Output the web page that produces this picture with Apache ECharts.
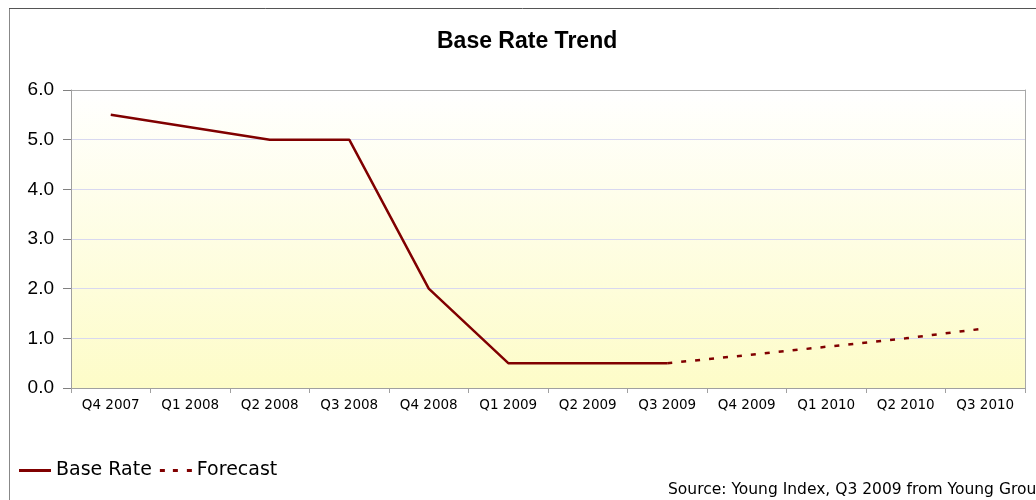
<!DOCTYPE html>
<html><head><meta charset="utf-8">
<script src="https://cdn.jsdelivr.net/npm/echarts@6/dist/echarts.min.js"></script>
<style>html,body{margin:0;padding:0;background:#fff}#c{width:1036px;height:500px}</style>
</head><body><div id="c"></div>
<script>
const categories = ['Q4 2007','Q1 2008','Q2 2008','Q3 2008','Q4 2008','Q1 2009','Q2 2009','Q3 2009','Q4 2009','Q1 2010','Q2 2010','Q3 2010'];
const baseRate = [5.5, 5.25, 5.0, 5.0, 2.0, 0.5, 0.5, 0.5, null, null, null, null];
const forecast = [null, null, null, null, null, null, null, 0.5, 0.66, 0.83, 1.0, 1.2];
const yTicks = [0, 1, 2, 3, 4, 5, 6];

const gridColors = yTicks.map((v, i) => i === yTicks.length - 1 ? '#a8a8a8' : '#d8d8f0');

const chart = echarts.init(document.getElementById('c'));
chart.setOption({
  animation: false,
  title: {
    text: 'Base Rate Trend', left: 432, top: 25,
    textStyle: {fontFamily: 'Liberation Sans', fontSize: 23, fontWeight: 'bold', color: '#000'}
  },
  legend: {
    left: 14, top: 456, itemGap: 8, itemWidth: 32, itemHeight: 3,
    textStyle: {fontFamily: 'DejaVu Sans', fontSize: 19, color: '#000', padding: [0,0,0,0]},
    data: [
      {name: 'Base Rate', icon: 'path://M0,0H32V3H0Z'},
      {name: 'Forecast', icon: 'path://M0,0H5V3H0Z M13,0H18V3H13Z M27,0H32V3H27Z'}
    ]
  },
  grid: {
    left: 71, right: 11, top: 90, bottom: 112, show: true, borderWidth: 0,
    backgroundColor: {type: 'linear', x: 0, y: 0, x2: 0, y2: 1,
      colorStops: [{offset: 0, color: '#ffffff'}, {offset: 1, color: '#fdfcc8'}]}
  },
  xAxis: {
    type: 'category', data: categories, boundaryGap: true,
    axisLine: {lineStyle: {color: '#a0a0a0'}},
    axisTick: {show: true, length: 5, lineStyle: {color: '#a0a0a0'}},
    axisLabel: {fontFamily: 'DejaVu Sans', fontSize: 13.5, color: '#000', margin: 10, interval: 0}
  },
  yAxis: [{
    type: 'value', min: yTicks[0], max: yTicks[yTicks.length-1], interval: 1,
    axisLine: {show: true, lineStyle: {color: '#a0a0a0'}},
    axisTick: {show: true, length: 8, lineStyle: {color: '#808080'}},
    axisLabel: {fontFamily: 'Liberation Sans', fontSize: 19, color: '#000', margin: 17,
      formatter: v => v.toFixed(1)},
    splitLine: {lineStyle: {color: gridColors, width: 1}}
  }, {
    type: 'value', min: yTicks[0], max: yTicks[yTicks.length-1], interval: 1, position: 'right',
    axisLine: {show: true, lineStyle: {color: '#a8a8a8'}},
    axisTick: {show: false}, axisLabel: {show: false}, splitLine: {show: false}
  }],
  series: [
    {name: 'Base Rate', type: 'line', data: baseRate, symbol: 'none', showSymbol: false,
     color: '#800000', lineStyle: {color: '#800000', width: 2.5}},
    {name: 'Forecast', type: 'line', data: forecast, symbol: 'none', showSymbol: false,
     color: '#800000', lineStyle: {color: '#800000', width: 2.5, type: [5, 9]}}
  ],
  graphic: [
    {type: 'line', shape: {x1: 9.5, y1: 8, x2: 9.5, y2: 500}, style: {stroke: '#888', lineWidth: 1}},
    {type: 'line', shape: {x1: 9, y1: 8.5, x2: 1036, y2: 8.5}, style: {stroke: '#555', lineWidth: 1}},
    {type: 'text', left: 668, top: 482,
     style: {text: 'Source: Young Index, Q3 2009 from Young Group', fontFamily: 'DejaVu Sans', fontSize: 15.5, fill: '#000'}}
  ]
});
</script></body></html>
